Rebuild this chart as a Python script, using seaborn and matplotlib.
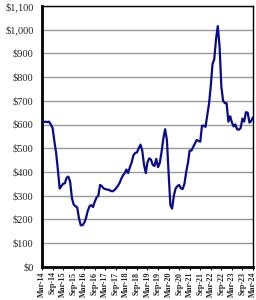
import matplotlib
matplotlib.use("Agg")
import matplotlib.pyplot as plt
import seaborn as sns
import pandas as pd
from matplotlib.ticker import FuncFormatter

start_month = "2014-03-01"
values = [615, 610, 612, 610, 612, 600, 585, 530, 480, 410, 330, 340, 350, 352, 375, 380,
          360, 290, 262, 255, 250, 205, 175, 175, 185, 205, 235, 255, 260, 252, 275, 292,
          300, 345, 340, 330, 328, 325, 325, 320, 318, 322, 330, 340, 352, 370, 385, 395,
          410, 395, 420, 440, 470, 480, 482, 500, 515, 490, 430, 395, 440, 457, 452, 430,
          425, 455, 420, 438, 485, 540, 580, 535, 400, 260, 245, 300, 330, 340, 345, 330,
          328, 350, 400, 440, 490, 490, 505, 520, 535, 530, 528, 595, 595, 590, 640, 690,
          760, 855, 875, 960, 1015, 930, 760, 700, 690, 690, 612, 635, 610, 592, 600, 580,
          578, 585, 625, 612, 652, 650, 608, 615, 630]
tick_labels = ["Mar-14", "Sep-14", "Mar-15", "Sep-15", "Mar-16", "Sep-16", "Mar-17", "Sep-17",
               "Mar-18", "Sep-18", "Mar-19", "Sep-19", "Mar-20", "Sep-20", "Mar-21", "Sep-21",
               "Mar-22", "Sep-22", "Mar-23", "Sep-23", "Mar-24"]
y_ticks = [0, 100, 200, 300, 400, 500, 600, 700, 800, 900, 1000, 1100]

dates = pd.date_range(start_month, periods=len(values), freq="MS")
df = pd.DataFrame({"date": dates, "value": values})

sns.set_style("white")
plt.rcParams["font.family"] = ["Liberation Serif", "DejaVu Serif"]

fig = plt.figure(figsize=(2.56, 3.0), dpi=100)
ax = fig.add_axes([0.164, 0.111, 0.824, 0.869])

for yv in y_ticks:
    ax.axhline(yv, color="#999999", lw=1.0, zorder=1)

sns.lineplot(data=df, x="date", y="value", ax=ax, color="#0a0a8c", lw=1.6, zorder=3)

ax.set_ylim(0, 1100)
ax.set_xlim(dates[0], dates[-1])
ax.set_yticks(y_ticks)
ax.yaxis.set_major_formatter(FuncFormatter(lambda v, p: f"${int(v):,}"))
tick_dates = pd.date_range(start_month, periods=len(tick_labels), freq="6MS")
ax.set_xticks(tick_dates)
ax.set_xticklabels(tick_labels, rotation=90, fontsize=5.8, fontweight="bold")
ax.tick_params(axis="y", labelsize=7.5, length=0, pad=6)
ax.tick_params(axis="x", length=2.5, width=0.8, pad=1, bottom=True, direction="out", color="black")
ax.set_xlabel("")
ax.set_ylabel("")
for s in ["left", "bottom"]:
    ax.spines[s].set_linewidth(2.0)
    ax.spines[s].set_color("black")
for s in ["top", "right"]:
    ax.spines[s].set_linewidth(1.0)
    ax.spines[s].set_color("black")
    ax.spines[s].set_visible(True)

fig.savefig("out.png", dpi=100)
